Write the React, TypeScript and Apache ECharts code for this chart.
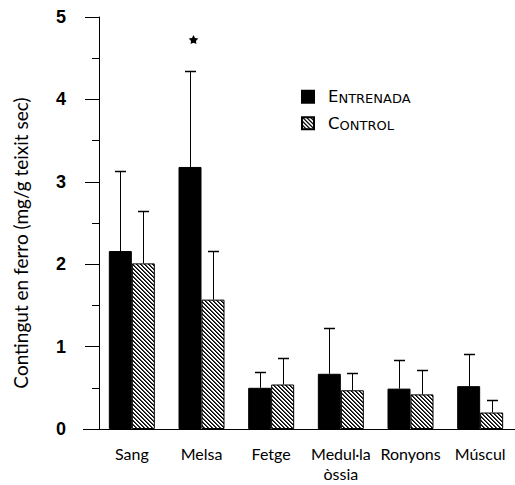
import React, { useEffect, useRef } from 'react';
import * as echarts from 'echarts';

const categories = ['Sang', 'Melsa', 'Fetge', 'Medul·la\nòssia', 'Ronyons', 'Múscul'];
const seriesNames = ['Entrenada', 'Control'];
const entrenada = [2.16, 3.18, 0.5, 0.67, 0.49, 0.52];
const entrenadaErrTop = [3.13, 4.35, 0.69, 1.22, 0.84, 0.91];
const control = [2.01, 1.57, 0.54, 0.47, 0.42, 0.2];
const controlErrTop = [2.65, 2.16, 0.86, 0.68, 0.72, 0.355];
// significance marker level (0 = none)
const significance = [0, 4.72, 0, 0, 0, 0];
const yMin = 0;
const yMax = 5;
const yInterval = 1;
const yTitle = 'Contingut en ferro (mg/g teixit sec)';

const BAR_GAP = 0.34;

function makeHatch(): HTMLCanvasElement {
  const c = document.createElement('canvas');
  c.width = 4;
  c.height = 4;
  const ctx = c.getContext('2d')!;
  const img = ctx.createImageData(4, 4);
  for (let y = 0; y < 4; y++) {
    for (let x = 0; x < 4; x++) {
      const d = (((x - y) % 4) + 4) % 4;
      const v = d === 0 ? 0 : d === 1 ? 70 : 255;
      const k = (y * 4 + x) * 4;
      img.data[k] = v;
      img.data[k + 1] = v;
      img.data[k + 2] = v;
      img.data[k + 3] = 255;
    }
  }
  ctx.putImageData(img, 0, 0);
  return c;
}

export default function App() {
  const ref = useRef<HTMLDivElement>(null);

  useEffect(() => {
    if (!ref.current) return;
    const chart = echarts.init(ref.current, null, { renderer: 'svg' });
    const hatch = { image: makeHatch(), repeat: 'repeat' } as any;

    const errData: number[][] = [];
    categories.forEach((_, i) => {
      errData.push([i, entrenada[i], entrenadaErrTop[i], 0, significance[i]]);
      errData.push([i, control[i], controlErrTop[i], 1, 0]);
    });

    const font = 'Lato';

    chart.setOption({
      animation: false,
      backgroundColor: '#fff',
      grid: { left: 97, top: 17, width: 421, height: 412 },
      legend: {
        data: seriesNames,
        orient: 'vertical',
        left: 296,
        top: 83,
        itemWidth: 12,
        itemHeight: 12,
        itemGap: 9.5,
        icon: 'rect',
        formatter: (n: string) =>
          n === 'Entrenada' ? '{a|E}{b|NTRENADA}' : '{a|C}{b|ONTROL}',
        textStyle: {
          color: '#000',
          fontFamily: 'DejaVu Sans',
          padding: [0, 0, 0, 9],
          rich: {
            a: { fontSize: 16.5, lineHeight: 16.5, fontFamily: 'DejaVu Sans', color: '#000', verticalAlign: 'bottom' },
            b: { fontSize: 13, lineHeight: 13, fontFamily: 'DejaVu Sans', color: '#000', verticalAlign: 'bottom' },
          },
        },
      },
      xAxis: {
        type: 'category',
        data: categories,
        axisLine: { show: true, lineStyle: { color: '#000', width: 1 } },
        axisTick: { show: false },
        axisLabel: {
          color: '#000',
          fontFamily: font,
          fontSize: 16,
          lineHeight: 20,
          margin: 14,
          interval: 0,
        },
        splitLine: { show: false },
      },
      yAxis: {
        type: 'value',
        min: yMin,
        max: yMax,
        interval: yInterval,
        offset: -2,
        axisLine: { show: true, lineStyle: { color: '#000', width: 1 } },
        axisTick: { show: true, length: 14, lineStyle: { color: '#000' } },
        minorTick: { show: true, splitNumber: 2, length: 7, lineStyle: { color: '#000' } },
        axisLabel: {
          color: '#000',
          fontFamily: 'Liberation Sans',
          fontWeight: 'bold',
          fontSize: 18,
          margin: 33,
        },
        splitLine: { show: false },
      },
      graphic: [
        {
          type: 'text',
          x: 20,
          y: 243,
          rotation: Math.PI / 2,
          style: {
            text: yTitle,
            font: `19px ${font}`,
            fill: '#000',
            textAlign: 'center',
            textVerticalAlign: 'middle',
          },
        },
        {
          type: 'line',
          shape: { x1: 83, y1: 429.5, x2: 99, y2: 429.5 },
          style: { stroke: '#000', lineWidth: 1 },
        },
      ],
      series: [
        {
          name: seriesNames[0],
          type: 'bar',
          data: entrenada,
          barGap: 0,
          barCategoryGap: `${BAR_GAP * 100}%`,
          itemStyle: { color: '#000', borderColor: '#000', borderWidth: 1 },
        },
        {
          name: seriesNames[1],
          type: 'bar',
          data: control,
          barGap: 0,
          barCategoryGap: `${BAR_GAP * 100}%`,
          itemStyle: { color: hatch, borderColor: '#000', borderWidth: 1 },
        },
        {
          name: 'err',
          type: 'custom',
          data: errData,
          encode: { x: 0, y: 2 },
          silent: true,
          z: 5,
          renderItem: (params: any, api: any) => {
            const idx = api.value(0);
            const v = api.value(1);
            const top = api.value(2);
            const s = api.value(3);
            const sig = api.value(4);
            const band = api.coord([1, 0])[0] - api.coord([0, 0])[0];
            const barW = (band * (1 - BAR_GAP)) / 2;
            const c = api.coord([idx, v]);
            const x = Math.round(c[0] + (s === 0 ? -barW / 2 : barW / 2)) + 0.5;
            const y0 = c[1];
            const y1 = Math.round(api.coord([idx, top])[1]) + 0.5;
            const children: any[] = [
              { type: 'line', shape: { x1: x, y1: y0, x2: x, y2: y1 }, style: { stroke: '#000', lineWidth: 1 } },
              { type: 'line', shape: { x1: x - 5.5, y1: y1, x2: x + 5.5, y2: y1 }, style: { stroke: '#000', lineWidth: 1.5 } },
            ];
            if (sig > 0) {
              const sc = api.coord([idx, sig]);
              const cx = x + 3;
              const cy = sc[1];
              const pts: number[][] = [];
              for (let k = 0; k < 10; k++) {
                const r = k % 2 === 0 ? 5 : 2.6;
                const a = -Math.PI / 2 + (k * Math.PI) / 5;
                pts.push([cx + r * Math.cos(a), cy + r * Math.sin(a)]);
              }
              children.push({ type: 'polygon', shape: { points: pts }, style: { fill: '#000' } });
            }
            return { type: 'group', children };
          },
        },
      ],
    });

    return () => chart.dispose();
  }, []);

  return (
    <div
      ref={ref}
      style={{ position: 'fixed', left: 0, top: 0, width: 515, height: 485, background: '#fff' }}
    />
  );
}
